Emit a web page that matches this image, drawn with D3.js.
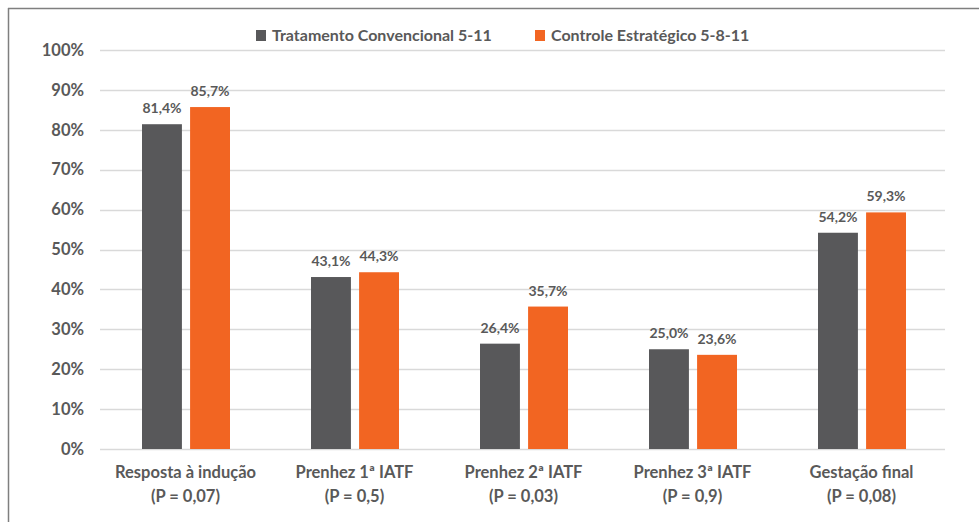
<!DOCTYPE html>
<html>
<head>
<meta charset="utf-8">
<script src="https://cdn.jsdelivr.net/npm/d3@7"></script>
<style>
  body { margin: 0; background: #fff; }
  text { font-family: Lato, "Open Sans", sans-serif; font-weight: bold; fill: #595959; }
</style>
</head>
<body>
<div id="viz"></div>
<script>
// data
var categories = ["Resposta à indução", "Prenhez 1ª IATF", "Prenhez 2ª IATF", "Prenhez 3ª IATF", "Gestação final"];
var pvalues = ["(P = 0,07)", "(P = 0,5)", "(P = 0,03)", "(P = 0,9)", "(P = 0,08)"];
var seriesNames = ["Tratamento Convencional 5-11", "Controle Estratégico 5-8-11"];
var convencional = [81.4, 43.1, 26.4, 25.0, 54.2];
var estrategico = [85.7, 44.3, 35.7, 23.6, 59.3];
var yTicks = [0, 10, 20, 30, 40, 50, 60, 70, 80, 90, 100];
var colors = ["#58585a", "#f26522"];

var W = 979, H = 522;
var margin = {top: 50, right: 34, bottom: 73, left: 100},
    width = W - margin.left - margin.right,
    height = H - margin.top - margin.bottom;

var root = d3.select("#viz").append("svg")
    .attr("width", W)
    .attr("height", H);

// frame (top and left edges only, as in the picture)
root.append("line").attr("x1", 8).attr("x2", W).attr("y1", 8.5).attr("y2", 8.5)
    .attr("stroke", "#7f7f7f").attr("stroke-width", 1.5);
root.append("line").attr("x1", 8.5).attr("x2", 8.5).attr("y1", 8).attr("y2", H)
    .attr("stroke", "#7f7f7f").attr("stroke-width", 1.5);

var svg = root.append("g")
    .attr("transform", "translate(" + margin.left + "," + margin.top + ")");

var x0 = d3.scaleBand().domain(categories).range([0, width]).paddingInner(0).paddingOuter(0);
var x1 = d3.scaleBand().domain([0, 1]).range([42, x0.bandwidth() - 39]).paddingInner(0.17);
var y = d3.scaleLinear().domain([0, 100]).range([height, 0]);

// gridlines
svg.append("g")
  .selectAll("line")
  .data(yTicks)
  .enter().append("line")
    .attr("x1", 0).attr("x2", width)
    .attr("y1", function(d) { return Math.round(y(d)) + 0.5; })
    .attr("y2", function(d) { return Math.round(y(d)) + 0.5; })
    .attr("stroke", "#d9d9d9")
    .attr("stroke-width", 1.5);

// y axis labels
var yAxis = svg.append("g")
  .call(d3.axisLeft(y).tickValues(yTicks).tickFormat(function(d) { return d + "%"; }).tickSize(0).tickPadding(16));
yAxis.select(".domain").remove();
yAxis.selectAll("text")
  .style("font-size", "16.5px")
  .style("font-family", "Lato, 'Open Sans', sans-serif")
  .attr("fill", "#595959");

// bars
var groups = svg.append("g")
  .selectAll("g")
  .data(categories)
  .enter().append("g")
    .attr("transform", function(d) { return "translate(" + x0(d) + ",0)"; });

groups.selectAll("rect")
  .data(function(d, i) { return [convencional[i], estrategico[i]].map(function(v, k) { return {k: k, v: v}; }); })
  .enter().append("rect")
    .attr("x", function(d) { return x1(d.k); })
    .attr("y", function(d) { return y(d.v); })
    .attr("width", x1.bandwidth())
    .attr("height", function(d) { return y(0) - y(d.v); })
    .attr("fill", function(d) { return colors[d.k]; });

// value labels
groups.selectAll("text.val")
  .data(function(d, i) { return [convencional[i], estrategico[i]].map(function(v, k) { return {k: k, v: v}; }); })
  .enter().append("text")
    .attr("class", "val")
    .attr("x", function(d) { return x1(d.k) + x1.bandwidth() / 2; })
    .attr("y", function(d) { return y(d.v) - 11; })
    .attr("text-anchor", "middle")
    .style("font-size", "14px")
    .text(function(d) { return d.v.toFixed(1).replace(".", ",") + "%"; });

// category labels
svg.append("g")
  .selectAll("text")
  .data(categories)
  .enter().append("text")
    .attr("x", function(d) { return x0(d) + x0.bandwidth() / 2 + 1; })
    .attr("y", height + 29)
    .attr("text-anchor", "middle")
    .style("font-size", "16.5px")
    .text(function(d) { return d; });

svg.append("g")
  .selectAll("text")
  .data(pvalues)
  .enter().append("text")
    .attr("x", function(d, i) { return x0(categories[i]) + x0.bandwidth() / 2 + 1; })
    .attr("y", height + 53)
    .attr("text-anchor", "middle")
    .style("font-size", "16.5px")
    .text(function(d) { return d; });

// legend
var legX = [256, 535];
seriesNames.forEach(function(name, i) {
  root.append("rect").attr("x", legX[i]).attr("y", 30).attr("width", 10).attr("height", 11).attr("fill", colors[i]);
  root.append("text").attr("x", legX[i] + 16).attr("y", 41)
    .style("font-size", "16px")
    .text(name);
});
</script>
</body>
</html>
